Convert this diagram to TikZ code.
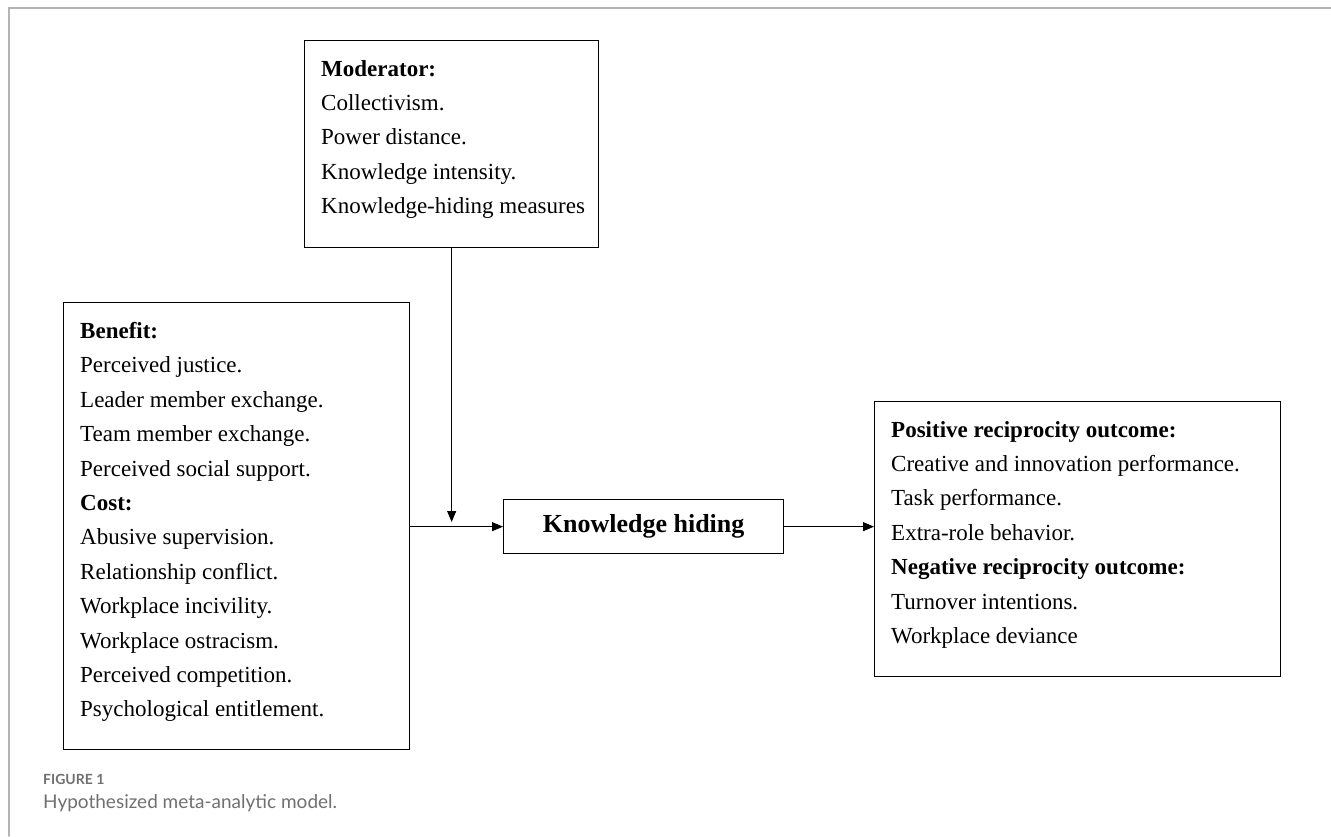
\documentclass[tikz,border=0pt]{standalone}
\usepackage{fontspec}
\setmainfont{Liberation Serif}
\newfontfamily\capfont{Lato}
\usetikzlibrary{arrows.meta}

\definecolor{framegray}{HTML}{B4B4B4}
\definecolor{capgray}{HTML}{707070}

\tikzset{
	box/.style={draw, line width=1.3pt, anchor=north west, inner sep=0pt},
	boxtext/.style={anchor=north west, align=left, inner sep=0pt, font=\fontsize{23}{34.4}\selectfont},
	arr/.style={line width=1pt, -{Triangle[length=11pt,width=9pt]}},
}

\begin{document}
\begin{tikzpicture}[x=1pt, y=-1pt, line cap=round]
		\useasboundingbox (0,0) rectangle (1331,836);
		% page frame
		\draw[framegray, line width=1.5pt] (9,836) -- (9,8) -- (1331,8);
		
		% moderator
		\node[box, minimum width=294pt, minimum height=207pt] (moderator) at (304,40) {};
		\node[boxtext] (moderator text) at (321,60) {\textbf{Moderator:}\\
			Collectivism.\\
			Power distance.\\
			Knowledge intensity.\\
			Knowledge-hiding measures};
		
		% antecedents
		\node[box, minimum width=346pt, minimum height=447pt] (benefit) at (63,302) {};
		\node[boxtext] (benefit text) at (80,322) {\textbf{Benefit:}\\
			Perceived justice.\\
			Leader member exchange.\\
			Team member exchange.\\
			Perceived social support.\\
			\textbf{Cost:}\\
			Abusive supervision.\\
			Relationship conflict.\\
			Workplace incivility.\\
			Workplace ostracism.\\
			Perceived competition.\\
			Psychological entitlement.};
		
		% knowledge hiding
		\node[box, minimum width=280pt, minimum height=54pt] (kh) at (503,499) {};
		\node[font=\fontsize{26}{30}\selectfont\bfseries] (kh text) at (kh.center) {Knowledge hiding};
		
		% outcomes
		\node[box, minimum width=406pt, minimum height=275pt] (outcome) at (874,401) {};
		\node[boxtext] (outcome text) at (891,421) {\textbf{Positive reciprocity outcome:}\\
			Creative and innovation performance.\\
			Task performance.\\
			Extra-role behavior.\\
			\textbf{Negative reciprocity outcome:}\\
			Turnover intentions.\\
			Workplace deviance};
		
		% connectors
		\coordinate (modjoin) at (moderator.south |- 0,522);
		\draw[arr] (moderator.south) -- (modjoin);
		\draw[arr] (benefit.east |- kh.west) -- (kh.west);
		\draw[arr] (kh.east) -- (outcome.west |- kh.east);
		
		% caption
		\node[anchor=west, inner sep=0pt, text=capgray, font=\capfont\bfseries\fontsize{14}{16}\selectfont] (figlabel) at (43,779) {FIGURE 1};
		\node[anchor=west, inner sep=0pt, text=capgray, font=\capfont\fontsize{19}{22}\selectfont] (figcaption) at (43,803) {Hypothesized meta-analytic model.};
\end{tikzpicture}
\end{document}
